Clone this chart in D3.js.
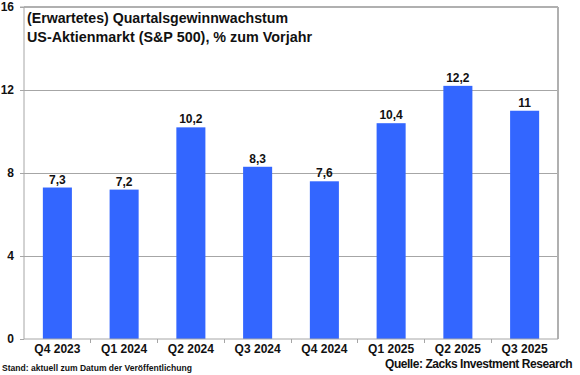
<!DOCTYPE html>
<html><head><meta charset="utf-8">
<script src="https://cdn.jsdelivr.net/npm/d3@7"></script>
<style>body{margin:0;background:#fff}svg{display:block;font-family:"Liberation Sans",Arial,sans-serif}</style>
</head><body><svg id="c" width="580" height="375"></svg>
<script>
const categories = ["Q4 2023","Q1 2024","Q2 2024","Q3 2024","Q4 2024","Q1 2025","Q2 2025","Q3 2025"];
const values = [7.3, 7.2, 10.2, 8.3, 7.6, 10.4, 12.2, 11];
const yTicks = [0, 4, 8, 12, 16];
const titleLines = ["(Erwartetes) Quartalsgewinnwachstum", "US-Aktienmarkt (S&P 500), % zum Vorjahr"];
const noteText = "Stand: aktuell zum Datum der Veröffentlichung";
const sourceText = "Quelle: Zacks Investment Research";

const svg = d3.select("#c");
const m = {l: 24, r: 558, t: 7, b: 339};
const x = d3.scaleBand().domain(categories).range([m.l, m.r]).paddingInner(0.565).paddingOuter(0.2825);
const xb = d3.scaleBand().domain(categories).range([m.l, m.r]);
const y = d3.scaleLinear().domain([0, 16]).range([m.b, m.t]);

// gridlines
svg.append("g").selectAll("line").data(yTicks.filter(d => d > 0 && d < 16)).join("line")
  .attr("x1", m.l).attr("x2", m.r).attr("y1", d => y(d)).attr("y2", d => y(d))
  .attr("stroke", "#a6a6a6").attr("stroke-width", 1).attr("shape-rendering", "crispEdges");
// frame top and right
svg.append("line").attr("x1", m.l).attr("x2", m.r).attr("y1", m.t).attr("y2", m.t)
  .attr("stroke", "#b0b0b0").attr("stroke-width", 2).attr("shape-rendering", "crispEdges");
svg.append("line").attr("x1", m.r).attr("x2", m.r).attr("y1", m.t).attr("y2", m.b)
  .attr("stroke", "#b0b0b0").attr("stroke-width", 2).attr("shape-rendering", "crispEdges");

// bars
svg.append("g").selectAll("rect").data(values).join("rect")
  .attr("x", (d, i) => x(categories[i])).attr("width", x.bandwidth())
  .attr("y", d => y(d)).attr("height", d => y(0) - y(d))
  .attr("fill", "#3366ff");

// value labels
svg.append("g").selectAll("text").data(values).join("text")
  .attr("x", (d, i) => x(categories[i]) + x.bandwidth() / 2).attr("y", d => y(d) - 4)
  .attr("text-anchor", "middle").attr("font-size", 12).attr("font-weight", "bold").attr("fill", "#111")
  .text(d => String(d).replace(".", ","));

// y axis
const ya = svg.append("g").attr("transform", `translate(${m.l},0)`)
  .call(d3.axisLeft(y).tickValues(yTicks).tickSize(4).tickPadding(6).tickFormat(d3.format("d")));
ya.select(".domain").attr("stroke", "#a6a6a6").attr("d", `M-4,${m.t}H0V${m.b}`);
ya.selectAll(".tick line").attr("stroke", "#a6a6a6");
ya.selectAll("text").attr("font-size", 12).attr("font-weight", "bold").attr("fill", "#111").attr("font-family", "Liberation Sans, Arial, sans-serif");

// x axis
const xa = svg.append("g").attr("transform", `translate(0,${m.b})`)
  .call(d3.axisBottom(xb).tickSize(0).tickPadding(5));
xa.select(".domain").attr("stroke", "#a6a6a6").attr("d", `M${m.l},0H${m.r}`);
xa.selectAll("text").attr("font-size", 12).attr("font-weight", "bold").attr("fill", "#111").attr("font-family", "Liberation Sans, Arial, sans-serif");
svg.append("g").selectAll("line").data(categories.slice(1)).join("line")
  .attr("x1", d => xb(d)).attr("x2", d => xb(d)).attr("y1", m.b).attr("y2", m.b + 4)
  .attr("stroke", "#a6a6a6").attr("shape-rendering", "crispEdges");

// title
const titleLen = [261, 285];
svg.append("g").selectAll("text").data(titleLines).join("text")
  .attr("x", 27).attr("y", (d, i) => 23 + i * 19)
  .attr("font-size", 15.5).attr("font-weight", "bold").attr("fill", "#111")
  .attr("textLength", (d, i) => titleLen[i]).attr("lengthAdjust", "spacingAndGlyphs").text(d => d);

svg.append("text").attr("x", 2).attr("y", 371).attr("font-size", 8.5).attr("font-weight", "bold").attr("fill", "#111")
  .attr("textLength", 190).attr("lengthAdjust", "spacingAndGlyphs").text(noteText);
svg.append("text").attr("x", 385).attr("y", 368).attr("font-size", 12).attr("font-weight", "bold").attr("fill", "#111")
  .attr("letter-spacing", "-0.45px").text(sourceText);
</script></body></html>
